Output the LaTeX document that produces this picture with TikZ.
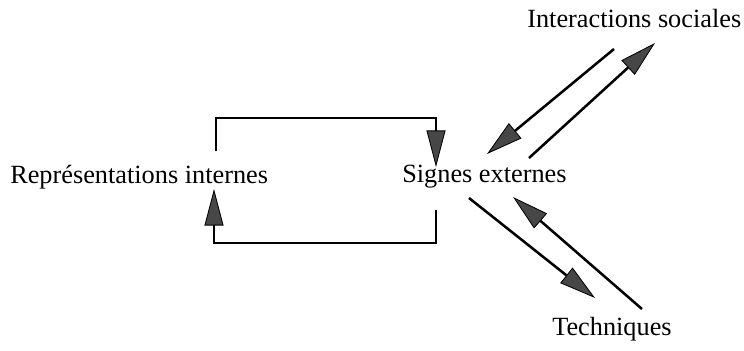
\documentclass[tikz,border=0pt]{standalone}
\usepackage{fontspec}
\setmainfont{Liberation Serif}
\usetikzlibrary{arrows.meta, positioning}

\tikzset{
  label text/.style={font=\fontsize{18.7}{22}\selectfont, inner sep=0pt, anchor=base west},
  loop arrow/.style={line width=1.3pt, -{Triangle[length=26pt, width=13.5pt, fill=black!72, line width=0.6pt]}},
  diag arrow/.style={line width=1.8pt, -{Triangle[length=26pt, width=14pt, fill=black!72, line width=0.6pt]}}
}

\begin{document}
\begin{tikzpicture}[x=0.025cm, y=-0.025cm]
  \useasboundingbox (0,0) rectangle (744,350);

  % Labels
  \node[label text] (rep) at (10,183) {Représentations internes};
  \node[label text] (sig) at (402,182) {Signes externes};
  \node[label text] (inter) at (527,27) {Interactions sociales};
  \node[label text] (tech) at (552,335) {Techniques};

  % Loop ends
  \coordinate (repTop) at (216,151);
  \coordinate (sigTop) at (436,167);
  \coordinate (sigBot) at (436,210);
  \coordinate (repBot) at (214,189);

  % Loop between internal and external
  \draw[loop arrow] (repTop) -- ++(0,-33) -| (sigTop);
  \draw[loop arrow] (sigBot) -- ++(0,33) -| (repBot);

  % Social interactions
  \coordinate (interOut) at (614,49);
  \coordinate (sigIn) at (487,154);
  \coordinate (sigOut) at (529,158);
  \coordinate (interIn) at (655,43);
  \draw[diag arrow] (interOut) -- (sigIn);
  \draw[diag arrow] (sigOut) -- (interIn);

  % Techniques
  \coordinate (sigOutT) at (469,198);
  \coordinate (techIn) at (595,298);
  \coordinate (techOut) at (642,309);
  \coordinate (sigInT) at (513,197);
  \draw[diag arrow] (sigOutT) -- (techIn);
  \draw[diag arrow] (techOut) -- (sigInT);
\end{tikzpicture}
\end{document}
